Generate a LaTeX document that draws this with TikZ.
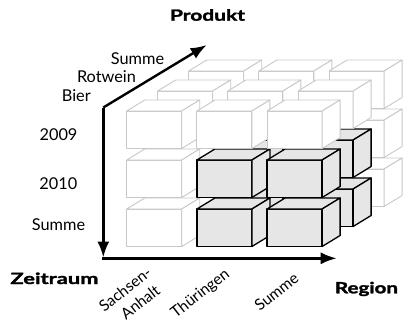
\documentclass[tikz,border=0pt]{standalone}
\usepackage{fontspec}
\setmainfont{Lato}
\newfontfamily\heavyfont{Lato}[BoldFeatures={FakeBold=1.6}]
\usetikzlibrary{arrows.meta}
\definecolor{lightedge}{HTML}{C8C8C8}
\definecolor{darkfill}{HTML}{E6E6E6}
\tikzset{
  lightcube/.style={draw=lightedge, fill=white, line width=0.9pt, line join=round},
  darkcube/.style={draw=black, fill=darkfill, line width=1.3pt, line join=round},
  axisline/.style={line width=2.4pt, -{Latex[length=16pt,width=12pt]}},
  lbl/.style={font=\fontsize{16.3}{19}\selectfont, anchor=base, inner sep=0pt},
  blbl/.style={font=\fontsize{15.5}{18}\selectfont\heavyfont\bfseries, anchor=base, inner sep=0pt},
  rlbl/.style={font=\fontsize{15.5}{19.5}\selectfont, rotate=38, anchor=center, inner sep=0pt, align=center},
}
\newcommand{\drawcube}[3]{%
  \path[#3] (#1,#2) rectangle ++(55,37.5);
  \path[#3] (#1,#2) -- ++(18,-11) -- ++(55,0) -- ++(-18,11) -- cycle;
  \path[#3] (#1+55,#2) -- ++(18,-11) -- ++(0,37.5) -- ++(-18,11) -- cycle;
}
\newcommand{\widebold}[2]{\resizebox{#1pt}{\height}{#2}}
\begin{document}
\begin{tikzpicture}[x=1pt,y=-1pt]
\useasboundingbox (0,0) rectangle (404,322);
% cubes: layers back to front, columns left to right, rows bottom to top
\foreach \k in {2,1,0}{
  \foreach \i in {0,1,2}{
    \foreach \j in {2,1,0}{
      \pgfmathsetmacro\cx{126.7+70.2*\i+31*\k}
      \pgfmathsetmacro\cy{111+49*\j-20*\k}
      \pgfmathtruncatemacro\isdark{(\i>0)&&(\j>0)&&(\k<2)}
      \ifnum\isdark=1
        \drawcube{\cx}{\cy}{darkcube}
      \else
        \drawcube{\cx}{\cy}{lightcube}
      \fi
    }
  }
}
% axes
\coordinate (C) at (103.3,107.5);
\coordinate (O) at (103.3,258.3);
\coordinate (Ov) at (103.3,257.5);
\coordinate (P) at (206.7,45);
\coordinate (R) at (336.7,258.3);
\draw[axisline] (C) -- (P);
\draw[axisline] (C) -- (Ov);
\draw[axisline] ([xshift=-1.2pt]O) -- (R);
% labels
\node[blbl] (produkt) at (207.5,20.7) {\widebold{75}{Produkt}};
\node[lbl] (psumme) at (137.5,64) {Summe};
\node[lbl] (rotwein) at (106.5,82.3) {Rotwein};
\node[lbl] (bier) at (76.3,101.7) {Bier};
\node[lbl] (y2009) at (58.5,140.7) {2009};
\node[lbl] (y2010) at (58.3,189.3) {2010};
\node[lbl] (zsumme) at (58.5,230) {Summe};
\node[blbl] (zeitraum) at (54.5,284) {\widebold{88}{Zeitraum}};
\node[blbl] (region) at (366.5,293.3) {\widebold{63}{Region}};
\node[rlbl] (sachsen) at (131,297) {Sachsen-\\\hspace*{8pt}Anhalt};
\node[rlbl] (thueringen) at (200.5,294) {Thüringen};
\node[rlbl] (rsumme) at (276.5,291.5) {Summe};
\end{tikzpicture}
\end{document}
